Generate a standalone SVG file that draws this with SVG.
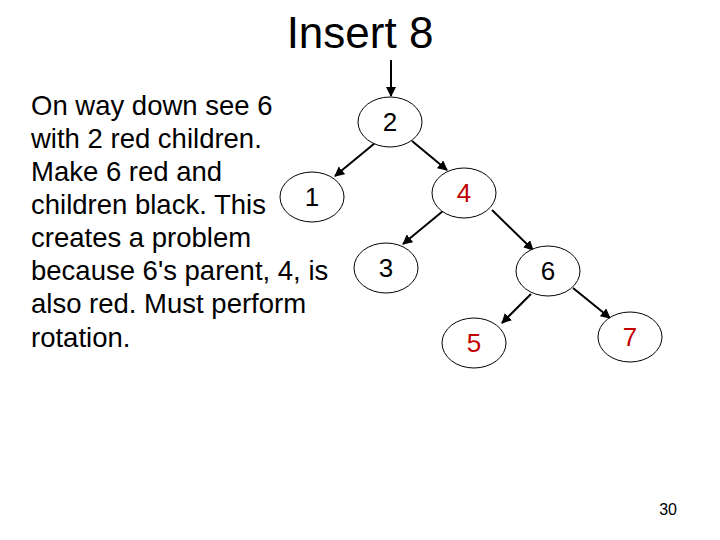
<svg xmlns="http://www.w3.org/2000/svg" width="720" height="540" viewBox="0 0 720 540">
<style>
text{font-family:"Liberation Sans",Arial,sans-serif;fill:#000}
.n ellipse{fill:#fff;stroke:#000;stroke-width:1}
.n text{font-size:26px;text-anchor:middle}
.red text{fill:#c00000}
#edges line{stroke:#000;stroke-width:2;marker-end:url(#a)}
</style>
<defs><marker id="a" viewBox="0 0 10 10" refX="9" refY="5" markerWidth="5" markerHeight="5" orient="auto"><path d="M0,0L10,5L0,10z" fill="#000"/></marker></defs>
<rect width="720" height="540" fill="#fff"/>
<text x="360" y="48" font-size="44" text-anchor="middle">Insert 8</text>
<g id="edges">
<line x1="391" y1="60" x2="391" y2="96"/>
<line x1="375" y1="143" x2="335" y2="176"/>
<line x1="412" y1="141" x2="447" y2="170"/>
<line x1="443" y1="211" x2="403" y2="244"/>
<line x1="492" y1="210" x2="533" y2="250"/>
<line x1="531" y1="294" x2="502" y2="323"/>
<line x1="573" y1="288" x2="610" y2="318"/>
</g>
<g id="n2" class="n"><ellipse cx="390" cy="122" rx="32" ry="25"/><text x="390" y="131">2</text></g>
<g id="n1" class="n"><ellipse cx="312" cy="197" rx="32" ry="25"/><text x="312" y="206">1</text></g>
<g id="n4" class="n red"><ellipse cx="464" cy="193" rx="32" ry="25"/><text x="464" y="202">4</text></g>
<g id="n3" class="n"><ellipse cx="386" cy="268" rx="32" ry="25"/><text x="386" y="277">3</text></g>
<g id="n6" class="n"><ellipse cx="548" cy="271" rx="32" ry="25"/><text x="548" y="280">6</text></g>
<g id="n5" class="n red"><ellipse cx="474" cy="343" rx="32" ry="25"/><text x="474" y="352">5</text></g>
<g id="n7" class="n red"><ellipse cx="630" cy="337" rx="32" ry="25"/><text x="630" y="346">7</text></g>
<text font-size="27.5"><tspan x="31" y="115">On way down see 6</tspan><tspan x="31" y="148">with 2 red children.</tspan><tspan x="31" y="181">Make 6 red and</tspan><tspan x="31" y="214">children black. This</tspan><tspan x="31" y="247">creates a problem</tspan><tspan x="31" y="280">because 6's parent, 4, is</tspan><tspan x="31" y="313">also red. Must perform</tspan><tspan x="31" y="347">rotation.</tspan></text>
<text x="677" y="515" font-size="16" text-anchor="end">30</text>
</svg>
